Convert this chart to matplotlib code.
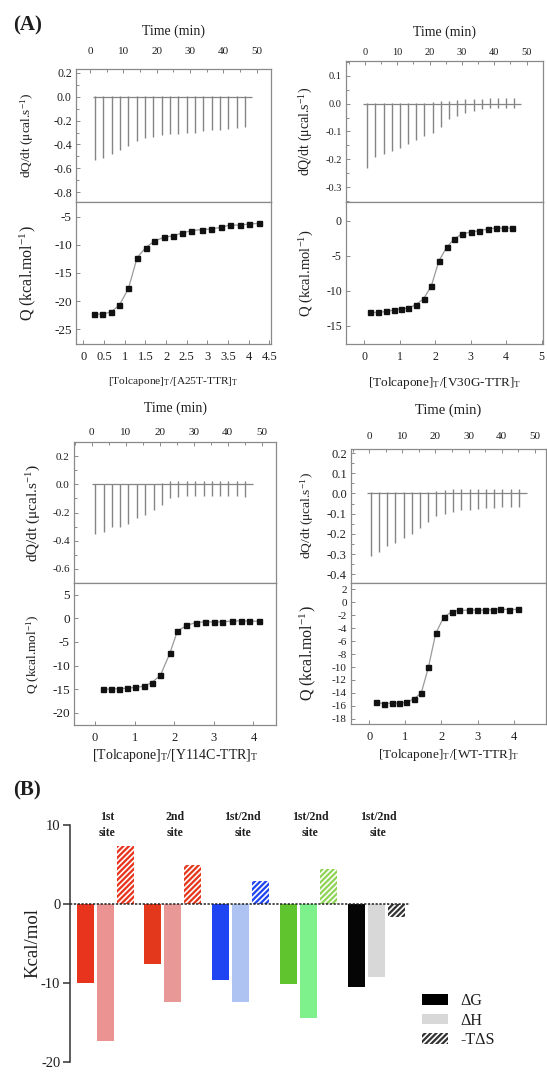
import matplotlib
matplotlib.use('Agg')
import matplotlib.pyplot as plt
from matplotlib.patches import Patch
from matplotlib.ticker import MultipleLocator

plt.rcParams['font.family'] = ['Liberation Serif', 'DejaVu Serif']
plt.rcParams['mathtext.fontset'] = 'stix'
plt.rcParams['axes.unicode_minus'] = False
plt.rcParams['hatch.linewidth'] = 1.2

# ---------------- data: ITC thermograms ----------------
a25t_time = [1.5, 4.0, 6.5, 9.0, 11.5, 14.0, 16.5, 19.0, 21.5, 24.0, 26.5, 29.0, 31.5, 34.0, 36.5, 39.0, 41.5, 44.0, 46.5]
a25t_peak = [-0.53, -0.51, -0.48, -0.45, -0.41, -0.37, -0.35, -0.34, -0.32, -0.31, -0.31, -0.30, -0.30, -0.29, -0.28, -0.28, -0.27, -0.26, -0.25]
a25t_up = [0.01] * 19
a25t_base = [0.9, 48.7]

v30g_time = [0.7, 3.2, 5.8, 8.3, 10.8, 13.4, 15.9, 18.4, 20.9, 23.5, 26.0, 28.5, 31.1, 33.6, 36.1, 38.7, 41.2, 43.7, 46.2]
v30g_peak = [-0.23, -0.19, -0.18, -0.17, -0.16, -0.145, -0.13, -0.115, -0.105, -0.085, -0.055, -0.043, -0.032, -0.025, -0.02, -0.016, -0.016, -0.015, -0.015]
v30g_up = [0.003, 0.003, 0.003, 0.003, 0.003, 0.003, 0.003, 0.003, 0.005, 0.008, 0.01, 0.012, 0.015, 0.015, 0.018, 0.02, 0.02, 0.02, 0.02]
v30g_base = [-0.5, 48.4]

y114c_time = [1.0, 3.5, 5.9, 8.4, 10.8, 13.3, 15.7, 18.2, 20.6, 23.1, 25.5, 28.0, 30.4, 32.9, 35.3, 37.8, 40.2, 42.7, 45.1]
y114c_peak = [-0.35, -0.34, -0.30, -0.30, -0.28, -0.24, -0.22, -0.18, -0.15, -0.10, -0.09, -0.085, -0.08, -0.08, -0.085, -0.085, -0.085, -0.085, -0.09]
y114c_up = [0.005, 0.005, 0.005, 0.005, 0.005, 0.005, 0.005, 0.005, 0.01, 0.02, 0.025, 0.025, 0.025, 0.025, 0.025, 0.025, 0.02, 0.02, 0.02]
y114c_base = [0.0, 47.5]

wt_time = [0.4, 2.9, 5.4, 7.9, 10.4, 12.9, 15.3, 17.8, 20.3, 22.8, 25.3, 27.8, 30.3, 32.8, 35.2, 37.7, 40.2, 42.7, 45.2]
wt_peak = [-0.31, -0.29, -0.26, -0.245, -0.22, -0.20, -0.17, -0.14, -0.11, -0.10, -0.09, -0.08, -0.08, -0.078, -0.073, -0.073, -0.068, -0.068, -0.065]
wt_up = [0.005, 0.005, 0.005, 0.005, 0.005, 0.005, 0.005, 0.005, 0.01, 0.015, 0.02, 0.02, 0.02, 0.02, 0.02, 0.02, 0.02, 0.02, 0.02]
wt_base = [-0.6, 47.6]

# ---------------- data: integrated heats ----------------
a25t_ratio = [0.26, 0.45, 0.67, 0.87, 1.09, 1.30, 1.51, 1.72, 1.94, 2.17, 2.39, 2.61, 2.86, 3.09, 3.32, 3.54, 3.79, 4.01, 4.26]
a25t_q = [-22.3, -22.3, -21.9, -20.7, -17.75, -12.25, -10.5, -9.3, -8.7, -8.4, -7.9, -7.5, -7.3, -7.2, -6.9, -6.5, -6.5, -6.3, -6.2]

v30g_ratio = [0.16, 0.39, 0.61, 0.83, 1.02, 1.24, 1.45, 1.67, 1.89, 2.10, 2.32, 2.53, 2.76, 3.00, 3.24, 3.48, 3.70, 3.94, 4.17]
v30g_q = [-13.1, -13.1, -12.95, -12.76, -12.57, -12.48, -12.0, -11.14, -9.29, -5.76, -3.81, -2.62, -1.86, -1.62, -1.43, -1.19, -1.05, -1.05, -1.05]

y114c_ratio = [0.19, 0.40, 0.61, 0.82, 1.02, 1.23, 1.43, 1.65, 1.89, 2.08, 2.31, 2.54, 2.78, 3.00, 3.21, 3.45, 3.68, 3.90, 4.14]
y114c_q = [-15.0, -15.0, -14.9, -14.8, -14.6, -14.4, -13.6, -12.1, -7.4, -2.7, -1.5, -0.9, -0.7, -0.8, -0.7, -0.6, -0.5, -0.6, -0.6]

wt_ratio = [0.19, 0.41, 0.62, 0.83, 1.02, 1.23, 1.44, 1.64, 1.84, 2.06, 2.29, 2.50, 2.75, 2.98, 3.21, 3.43, 3.63, 3.88, 4.12]
wt_q = [-15.46, -15.66, -15.56, -15.56, -15.46, -14.94, -14.0, -10.0, -4.82, -2.33, -1.45, -1.24, -1.24, -1.19, -1.24, -1.14, -1.04, -1.14, -1.09]

# ---------------- data: thermodynamic parameters (B) ----------------
site_labels = ['1st\nsite', '2nd\nsite', '1st/2nd\nsite', '1st/2nd\nsite', '1st/2nd\nsite']
dG = [-10.0, -7.6, -9.6, -10.1, -10.5]
dH = [-17.3, -12.4, -12.4, -14.4, -9.2]
mTdS = [7.3, 4.9, 2.9, 4.4, -1.6]
dG_colors = ['#e8341c', '#e4381c', '#1f44f2', '#60c42e', '#050505']
dH_colors = ['#eb9393', '#e99898', '#aec3f2', '#7ef08c', '#d8d8d8']
tds_colors = ['#e8341c', '#e4381c', '#1f44f2', '#8fd455', '#333333']
legend_labels = ['ΔG', 'ΔH', '-TΔS']

# ---------------- layout ----------------
W, H = 547, 1072
fig = plt.figure(figsize=(W / 100, H / 100), dpi=100)
TXT = '#1e1e1e'
SP = '#8a8a8a'


def ax_px(l, t, r, b):
    return fig.add_axes([l / W, 1 - b / H, (r - l) / W, (b - t) / H])


def style(ax):
    for s in ax.spines.values():
        s.set_color(SP)
        s.set_linewidth(0.9)
    ax.tick_params(which='both', direction='in', color=SP,
                   labelcolor=TXT, width=0.7)
    ax.tick_params(which='major', length=3)
    ax.tick_params(which='minor', length=1.8)


panels = [
    dict(time=a25t_time, peak=a25t_peak, up=a25t_up, base=a25t_base,
         ratio=a25t_ratio, q=a25t_q,
         tbox=(76, 69, 271, 202), qbox=(76, 202, 271, 344),
         txlim=(-4.2, 54.3), tylim=(-0.883, 0.233), tyt=[0.2, 0.0, -0.2, -0.4, -0.6, -0.8], tymin=0.1, tpad=9,
         qxlim=(-0.18, 4.54), qylim=(-27.6, -2.4), qyt=[-5, -10, -15, -20, -25],
         qxt=[0, 0.5, 1, 1.5, 2, 2.5, 3, 3.5, 4, 4.5],
         qxtl=['0', '0.5', '1', '1.5', '2', '2.5', '3', '3.5', '4', '4.5'],
         xlab='[Tolcapone]$_\\mathregular{T}$/[A25T-TTR]$_\\mathregular{T}$',
         fs_tt=8.5, fs_time=8, fs_qt=9.5, fs_qx=9, fs_tl=10, fs_xl=8.2, fs_dq=9.5, fs_ql=11.5,
         ylx=28, tlpad=9, xlpad=9),
    dict(time=v30g_time, peak=v30g_peak, up=v30g_up, base=v30g_base,
         ratio=v30g_ratio, q=v30g_q,
         tbox=(346, 61, 543, 202), qbox=(346, 202, 543, 344),
         txlim=(-5.9, 55.1), tylim=(-0.353, 0.153), tyt=[0.1, 0.0, -0.1, -0.2, -0.3], tymin=0.05, tpad=3,
         qxlim=(-0.52, 5.04), qylim=(-17.6, 2.67), qyt=[0, -5, -10, -15],
         qxt=[0, 1, 2, 3, 4, 5], qxtl=['0', '1', '2', '3', '4', '5'],
         xlab='[Tolcapone]$_\\mathregular{T}$/[V30G-TTR]$_\\mathregular{T}$',
         fs_tt=7.5, fs_time=7.5, fs_qt=8.5, fs_qx=8.5, fs_tl=10, fs_xl=9.5, fs_dq=10, fs_ql=10.5,
         ylx=306, tlpad=9, xlpad=9),
    dict(time=y114c_time, peak=y114c_peak, up=y114c_up, base=y114c_base,
         ratio=y114c_ratio, q=y114c_q,
         tbox=(74, 442, 276, 583), qbox=(74, 583, 276, 725),
         txlim=(-5.2, 54.2), tylim=(-0.70, 0.30), tyt=[0.2, 0.0, -0.2, -0.4, -0.6], tymin=0.1, tpad=3.5,
         qxlim=(-0.53, 4.57), qylim=(-22.6, 7.5), qyt=[5, 0, -5, -10, -15, -20],
         qxt=[0, 1, 2, 3, 4], qxtl=['0', '1', '2', '3', '4'],
         xlab='[Tolcapone]$_\\mathregular{T}$/[Y114C-TTR]$_\\mathregular{T}$',
         fs_tt=8, fs_time=8, fs_qt=9.5, fs_qx=9, fs_tl=10, fs_xl=10, fs_dq=11, fs_ql=9.5,
         ylx=33, tlpad=12, xlpad=2),
    dict(time=wt_time, peak=wt_peak, up=wt_up, base=wt_base,
         ratio=wt_ratio, q=wt_q,
         tbox=(351, 449, 546, 583), qbox=(351, 583, 546, 724),
         txlim=(-5.5, 53.4), tylim=(-0.443, 0.22), tyt=[0.2, 0.1, 0.0, -0.1, -0.2, -0.3, -0.4], tymin=0.05, tpad=6,
         qxlim=(-0.51, 4.9), qylim=(-18.8, 2.97), qyt=[2, 0, -2, -4, -6, -8, -10, -12, -14, -16, -18],
         qxt=[0, 1, 2, 3, 4], qxtl=['0', '1', '2', '3', '4'],
         xlab='[Tolcapone]$_\\mathregular{T}$/[WT-TTR]$_\\mathregular{T}$',
         fs_tt=9, fs_time=8, fs_qt=8, fs_qx=9, fs_tl=10.5, fs_xl=9.5, fs_dq=9.7, fs_ql=11.5,
         ylx=308, tlpad=13, xlpad=3),
]

for p in panels:
    at = ax_px(*p['tbox'])
    style(at)
    at.hlines(0, p['base'][0], p['base'][1], color='#858585', lw=0.9)
    at.vlines(p['time'], p['peak'], p['up'], color='#858585', lw=1.0)
    at.set_xlim(*p['txlim'])
    at.set_ylim(*p['tylim'])
    at.set_yticks(p['tyt'])
    at.set_yticklabels(['%.1f' % v for v in p['tyt']])
    at.yaxis.set_minor_locator(MultipleLocator(p['tymin']))
    at.set_xticks([0, 10, 20, 30, 40, 50])
    at.xaxis.set_minor_locator(MultipleLocator(5))
    at.xaxis.tick_top()
    at.xaxis.set_label_position('top')
    at.tick_params(axis='x', which='both', pad=p['tpad'], labelsize=p['fs_time'])
    at.tick_params(axis='y', pad=3, labelsize=p['fs_tt'])
    at.set_xlabel('Time (min)', fontsize=p['fs_tl'], color=TXT, labelpad=p['tlpad'])
    at.set_ylabel('dQ/dt (μcal.s$^{\\mathregular{-1}}$)', fontsize=p['fs_dq'], color=TXT, va='center')
    at.yaxis.set_label_coords((p['ylx'] - p['tbox'][0]) / (p['tbox'][2] - p['tbox'][0]), 0.5)

    aq = ax_px(*p['qbox'])
    style(aq)
    aq.plot(p['ratio'], p['q'], color='#9a9a9a', lw=0.9, zorder=2)
    aq.plot(p['ratio'], p['q'], ls='none', marker='s', ms=3.6, color='#111111', zorder=3)
    aq.set_xlim(*p['qxlim'])
    aq.set_ylim(*p['qylim'])
    aq.set_yticks(p['qyt'])
    aq.set_yticklabels([str(v) for v in p['qyt']])
    aq.set_xticks(p['qxt'])
    aq.set_xticklabels(p['qxtl'])
    aq.tick_params(axis='x', pad=5, labelsize=p['fs_qx'])
    aq.tick_params(axis='y', pad=3, labelsize=p['fs_qt'])
    aq.set_xlabel(p['xlab'], fontsize=p['fs_xl'], color=TXT, labelpad=p['xlpad'])
    aq.set_ylabel('Q (kcal.mol$^{\\mathregular{-1}}$)', fontsize=p['fs_ql'], color=TXT, va='center')
    aq.yaxis.set_label_coords((p['ylx'] - p['qbox'][0]) / (p['qbox'][2] - p['qbox'][0]), 0.5)

fig.text(13 / W, 1 - 25 / H, '(A)', fontsize=15, fontweight='bold', color=TXT, va='center', ha='left')
fig.text(13 / W, 1 - 790 / H, '(B)', fontsize=15, fontweight='bold', color=TXT, va='center', ha='left')

# ---------------- panel B ----------------
ab = ax_px(70, 825, 410, 1062)
off = 0.295
bw = 0.25
gx = list(range(len(dG)))
ab.bar([g - off for g in gx], dG, width=bw, color=dG_colors, linewidth=0)
ab.bar(gx, dH, width=bw, color=dH_colors, linewidth=0)
ab.bar([g + off for g in gx], mTdS, width=bw, color=tds_colors, edgecolor='white',
       hatch='//////', linewidth=0)
ab.axhline(0, color='#222222', ls=(0, (1.5, 1.0)), lw=1.1, zorder=5)
ab.set_xlim(-0.517, 4.50)
ab.set_ylim(-20, 10)
ab.set_yticks([10, 0, -10, -20])
for s in ['top', 'right', 'bottom']:
    ab.spines[s].set_visible(False)
ab.spines['left'].set_color('#333333')
ab.spines['left'].set_linewidth(1.1)
ab.xaxis.set_visible(False)
ab.tick_params(axis='y', direction='out', length=5, width=1.1, color='#333333',
               labelsize=10.5, labelcolor=TXT, pad=2)
ab.set_ylabel('Kcal/mol', fontsize=13.5, color=TXT, va='center')
ab.yaxis.set_label_coords((33 - 70) / 340, 0.5)
for g, lab in zip(gx, site_labels):
    ab.text(g + 0.03, 10, lab, ha='center', va='center', fontsize=8.5, fontweight='bold',
            color=TXT, linespacing=1.35, clip_on=False)

handles = [Patch(facecolor='black', edgecolor='black', linewidth=0),
           Patch(facecolor='#d8d8d8', edgecolor='#d8d8d8', linewidth=0),
           Patch(facecolor='#333333', edgecolor='white', hatch='//////', linewidth=0)]
fig.legend(handles, legend_labels, loc='upper left', bbox_to_anchor=(411 / W, 1 - 982 / H),
           frameon=False, fontsize=11.5, handlelength=1.6, handleheight=0.65,
           handletextpad=0.8, labelspacing=0.22, borderpad=0.2, labelcolor=TXT)

fig.savefig('out.png', dpi=100)
